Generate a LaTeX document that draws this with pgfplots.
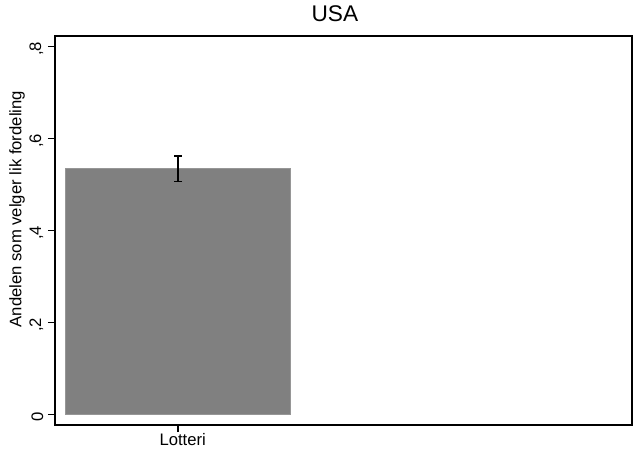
\documentclass[border=0pt]{standalone}
\usepackage{pgfplots}
\pgfplotsset{compat=1.18}
\usepackage{fontspec}
\setmainfont{Liberation Sans}
\begin{document}
\begin{tikzpicture}
\begin{axis}[
  at={(0,0)}, anchor=south west,
  scale only axis, width=432.75pt, height=291.75pt,
  xmin=55, xmax=632, ymin=-0.0233, ymax=0.8224,
  axis line style={line width=1pt, black},
  xtick={178}, xticklabels={Lotteri},
  ytick={0,0.2,0.4,0.6,0.8}, yticklabels={0,{,2},{,4},{,6},{,8}},
  tick align=outside, xtick pos=bottom, ytick pos=left,
  major tick length=5.25pt,
  tick style={line width=0.8pt, black},
  ticklabel style={font=\fontsize{12.5}{14}\selectfont},
  yticklabel style={rotate=90, anchor=south, xshift=-2pt},
  xticklabel style={yshift=2.25pt, xshift=3.5pt},
  /pgf/number format/assume math mode=true,
  ylabel={Andelen som velger lik fordeling},
  ylabel style={font=\fontsize{12.5}{14}\selectfont, at={(axis description cs:-0.0659,0.555)}, anchor=center},
  title={USA},
  title style={font=\fontsize{17}{20}\selectfont, at={(axis description cs:0.485,1)}, anchor=center, yshift=10.5pt},
]
\addplot[ybar, bar width=225.7, fill={rgb,255:red,128;green,128;blue,128},
  draw={rgb,255:red,150;green,150;blue,150}, line width=0.6pt,
  error bars/.cd, y dir=both, y explicit,
  error bar style={line width=1.1pt, black},
  error mark options={rotate=90, mark size=3pt, line width=1.1pt, black}]
  coordinates {(178,0.534) +- (0,0.028)};
\end{axis}
\pgfresetboundingbox
\useasboundingbox (-41.25pt,-18pt) rectangle (434.25pt,318.75pt);
\end{tikzpicture}
\end{document}
